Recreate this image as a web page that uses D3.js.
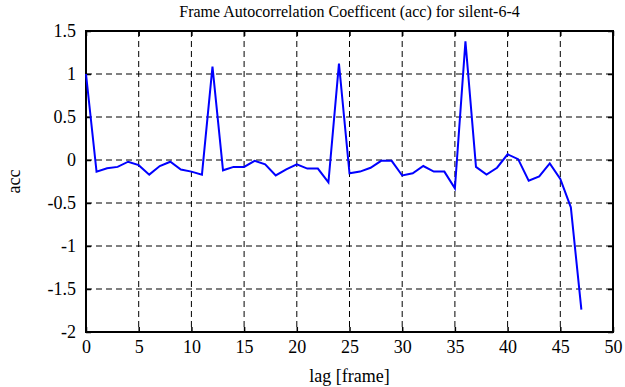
<!DOCTYPE html>
<html>
<head>
<meta charset="utf-8">
<script src="https://cdn.jsdelivr.net/npm/d3@7"></script>
<style>
body { margin: 0; background: #fff; }
svg text { font-family: "Liberation Serif", "DejaVu Serif", serif; fill: #000; }
</style>
</head>
<body>
<svg id="chart"></svg>
<script>
var width = 625;
var height = 387;
var margin = {top: 31, right: 12, bottom: 55, left: 86};

var lags = d3.range(0, 48);
var acc = [1.0, -0.136, -0.097, -0.08, -0.02, -0.06, -0.17, -0.07, -0.02, -0.11,
           -0.135, -0.17, 1.085, -0.12, -0.08, -0.08, -0.01, -0.05, -0.18, -0.11,
           -0.05, -0.10, -0.10, -0.26, 1.12, -0.155, -0.135, -0.09, -0.01, -0.01,
           -0.18, -0.155, -0.07, -0.135, -0.135, -0.33, 1.38, -0.08, -0.17, -0.09,
           0.066, 0.01, -0.24, -0.19, -0.04, -0.22, -0.55, -1.74];
var xTicks = [0, 5, 10, 15, 20, 25, 30, 35, 40, 45, 50];
var yTicks = [-2, -1.5, -1, -0.5, 0, 0.5, 1, 1.5];

var xScale = d3.scaleLinear()
               .domain([0, 50])
               .range([margin.left, width - margin.right]);

var yScale = d3.scaleLinear()
               .domain([-2, 1.5])
               .range([height - margin.bottom, margin.top]);

var svg = d3.select("#chart")
            .attr("width", width)
            .attr("height", height);

// dashed grid
svg.append("g")
   .selectAll("line")
   .data(xTicks.slice(1, -1))
   .enter()
   .append("line")
     .attr("x1", d => xScale(d)).attr("x2", d => xScale(d))
     .attr("y1", yScale(1.5)).attr("y2", yScale(-2))
     .attr("stroke", "#000")
     .attr("stroke-width", 1)
     .attr("stroke-dasharray", "6,4");

svg.append("g")
   .selectAll("line")
   .data(yTicks.slice(1, -1))
   .enter()
   .append("line")
     .attr("x1", xScale(0)).attr("x2", xScale(50))
     .attr("y1", d => yScale(d)).attr("y2", d => yScale(d))
     .attr("stroke", "#000")
     .attr("stroke-width", 1)
     .attr("stroke-dasharray", "6,4");

var fmt = d => String(d);

var xAxis = d3.axisBottom(xScale).tickValues(xTicks).tickSize(-5).tickSizeOuter(0).tickPadding(8).tickFormat(fmt);
var xAxisTop = d3.axisTop(xScale).tickValues(xTicks).tickSize(-5).tickSizeOuter(0).tickFormat("");
var yAxis = d3.axisLeft(yScale).tickValues(yTicks).tickSize(-5).tickSizeOuter(0).tickPadding(10).tickFormat(fmt);
var yAxisRight = d3.axisRight(yScale).tickValues(yTicks).tickSize(-5).tickSizeOuter(0).tickFormat("");

function styleAxis(g) {
    g.attr("font-family", "Liberation Serif, serif")
     .attr("font-size", 18);
    g.select(".domain").remove();
    g.selectAll(".tick line").attr("stroke", "#000").attr("stroke-width", 1.5);
    g.selectAll(".tick text").attr("fill", "#000");
}

svg.append("g")
   .attr("transform", "translate(0," + yScale(-2) + ")")
   .call(xAxis).call(styleAxis);
svg.append("g")
   .attr("transform", "translate(0," + yScale(1.5) + ")")
   .call(xAxisTop).call(styleAxis);
svg.append("g")
   .attr("transform", "translate(" + xScale(0) + ",0)")
   .call(yAxis).call(styleAxis);
svg.append("g")
   .attr("transform", "translate(" + xScale(50) + ",0)")
   .call(yAxisRight).call(styleAxis);

// frame
svg.append("rect")
   .attr("x", xScale(0))
   .attr("y", yScale(1.5))
   .attr("width", xScale(50) - xScale(0))
   .attr("height", yScale(-2) - yScale(1.5))
   .attr("fill", "none")
   .attr("stroke", "#000")
   .attr("stroke-width", 2);

var line = d3.line()
             .x((d, i) => xScale(lags[i]))
             .y(d => yScale(d));

svg.append("path")
   .datum(acc)
   .attr("d", line)
   .attr("fill", "none")
   .attr("stroke", "#0000ff")
   .attr("stroke-width", 2);

svg.append("text")
   .attr("x", (xScale(0) + xScale(50)) / 2)
   .attr("y", 17)
   .attr("text-anchor", "middle")
   .style("font-size", "16px")
   .text("Frame Autocorrelation Coefficent (acc) for silent-6-4");

svg.append("text")
   .attr("x", (xScale(0) + xScale(50)) / 2)
   .attr("y", 382)
   .attr("text-anchor", "middle")
   .style("font-size", "18px")
   .text("lag [frame]");

svg.append("text")
   .attr("transform", "translate(20," + (yScale(-0.25)) + ") rotate(-90)")
   .attr("text-anchor", "middle")
   .style("font-size", "18px")
   .text("acc");
</script>
</body>
</html>
